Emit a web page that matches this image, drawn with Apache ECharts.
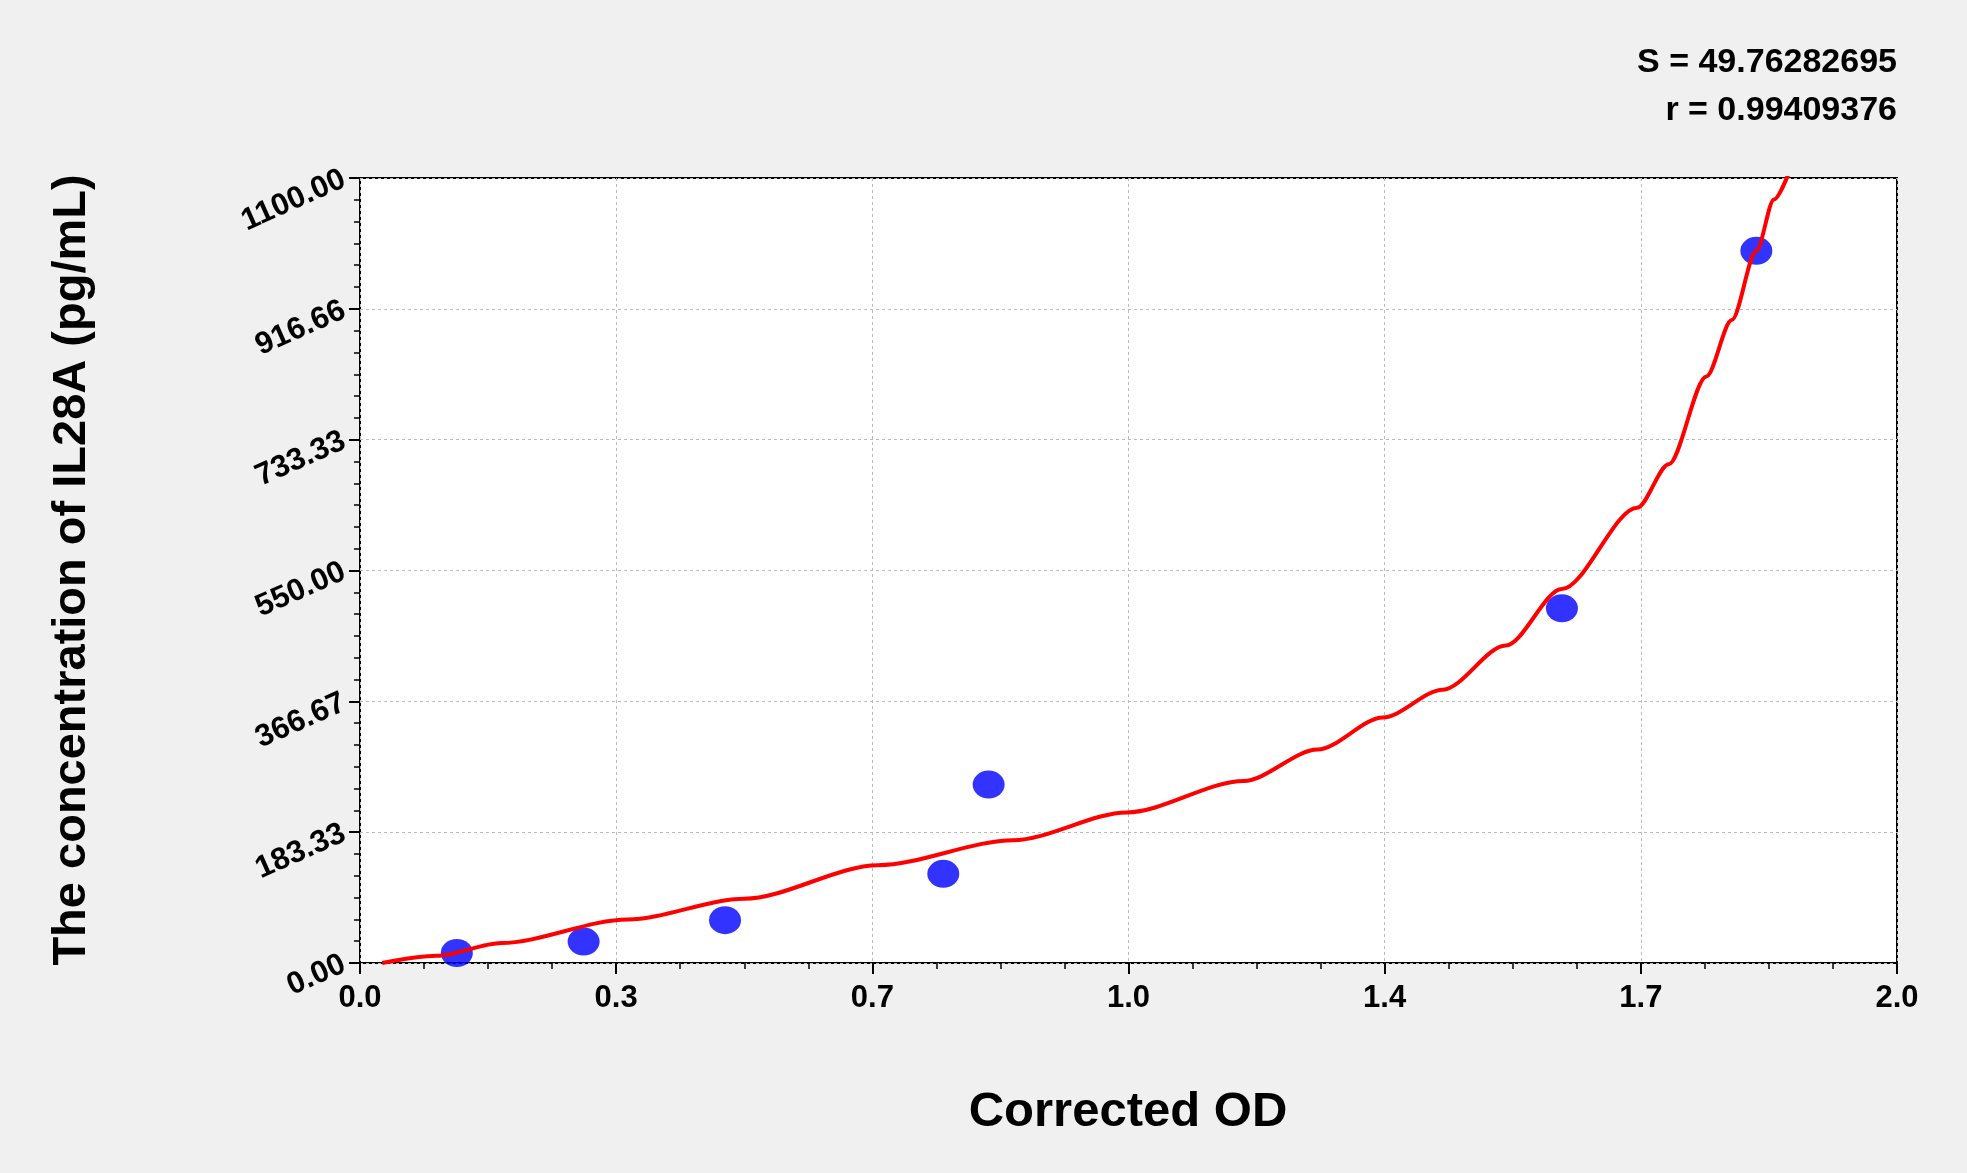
<!DOCTYPE html>
<html><head><meta charset="utf-8">
<script src="https://cdn.jsdelivr.net/npm/echarts@6/dist/echarts.min.js"></script>
<style>html,body{margin:0;background:#f0f0f0}#c{width:1967px;height:1173px}</style>
</head><body><div id="c"></div>
<script>
const pointX=[0.126,0.291,0.475,0.759,0.818,1.564,1.817];
const pointY=[14,30,60,125,250,497,998];
const curveX=[0.029,0.10,0.184,0.348,0.50,0.674,0.85,0.998,1.15,1.246,1.331,1.409,1.491,1.564,1.662,1.703,1.752,1.785,1.817,1.840,1.862];
const curveY=[0,10,28,61,90,137,172,211,255,299,344,383,445,524,638,699,822,901,998,1070,1115];
const xTickLabels=['0.0','0.3','0.7','1.0','1.4','1.7','2.0'];
const yTickLabels=['0.00','183.33','366.67','550.00','733.33','916.66','1100.00'];
const stats=['S = 49.76282695','r = 0.99409376'];
const F='Liberation Sans, Arial, sans-serif';
const ch=echarts.init(document.getElementById('c'));
ch.setOption({
 backgroundColor:'#f0f0f0',
 grid:{left:360,right:70,top:178,bottom:210,show:true,backgroundColor:'#fff',borderColor:'#000',borderWidth:2},
 xAxis:{type:'value',min:0,max:2,interval:2/6,
  axisLine:{show:false},
  axisTick:{show:true,length:11,lineStyle:{color:'#000',width:2}},
  minorTick:{show:true,splitNumber:4,length:6,lineStyle:{color:'#000',width:1.5}},
  splitLine:{show:true,lineStyle:{color:'#bbb',type:[3,3]}},
  axisLabel:{formatter:v=>xTickLabels[Math.round(v*3)],fontFamily:F,fontWeight:'bold',fontSize:31,color:'#000',margin:20}},
 yAxis:{type:'value',min:0,max:1100,interval:1100/6,
  axisLine:{show:false},
  axisTick:{show:true,length:11,lineStyle:{color:'#000',width:2}},
  minorTick:{show:true,splitNumber:6,length:6,lineStyle:{color:'#000',width:1.5}},
  splitLine:{show:true,lineStyle:{color:'#bbb',type:[3,3]}},
  axisLabel:{formatter:v=>yTickLabels[Math.round(v/(1100/6))],rotate:24,fontFamily:F,fontWeight:'bold',fontSize:31,color:'#000',margin:16}},
 graphic:[
  {type:'text',x:1897,y:46,style:{text:stats[0],textAlign:'right',font:'bold 34px '+F,fill:'#000'}},
  {type:'text',x:1897,y:94,style:{text:stats[1],textAlign:'right',font:'bold 34px '+F,fill:'#000'}},
  {type:'text',x:1128,y:1112,style:{text:'Corrected OD',textAlign:'center',textVerticalAlign:'middle',font:'bold 49px '+F,fill:'#000'}},
  {type:'text',x:72,y:570,rotation:Math.PI/2,style:{text:'The concentration of IL28A (pg/mL)',textAlign:'center',textVerticalAlign:'middle',font:'bold 47px '+F,fill:'#000'}}
 ],
 series:[
  {type:'scatter',data:pointX.map((x,i)=>[x,pointY[i]]),symbol:'circle',symbolSize:[32,28],itemStyle:{color:'#0000ff'},z:2},
  {type:'line',data:curveX.map((x,i)=>[x,curveY[i]]),smooth:0.3,smoothMonotone:'x',showSymbol:false,clip:false,lineStyle:{color:'#ff0000',width:4},z:3}
 ]
});
</script></body></html>
